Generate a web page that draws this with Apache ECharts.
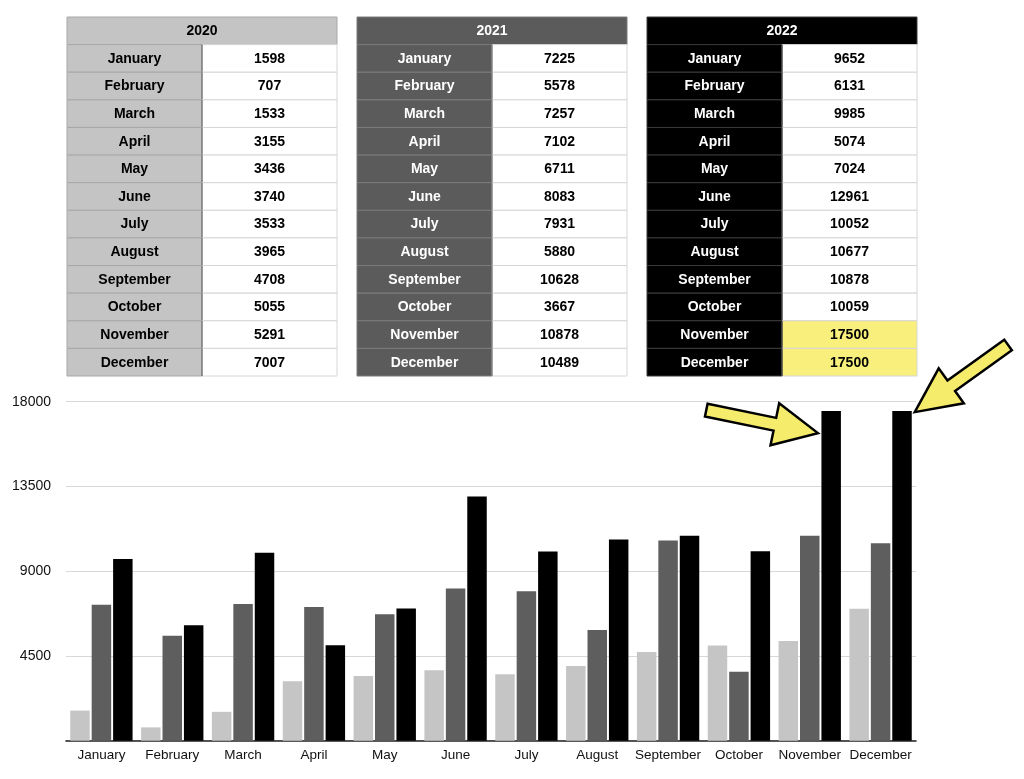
<!DOCTYPE html>
<html>
<head>
<meta charset="utf-8">
<script src="https://cdn.jsdelivr.net/npm/echarts@6/dist/echarts.min.js"></script>
<style>
html,body{margin:0;padding:0;background:#ffffff;}
#c{width:1024px;height:779px;}
</style>
</head>
<body>
<div id="c"></div>
<script>
// ---------- data ----------
const months = ['January','February','March','April','May','June','July','August','September','October','November','December'];
const years = ['2020','2021','2022'];
const values2020 = [1598, 707, 1533, 3155, 3436, 3740, 3533, 3965, 4708, 5055, 5291, 7007];
const values2021 = [7225, 5578, 7257, 7102, 6711, 8083, 7931, 5880, 10628, 3667, 10878, 10489];
const values2022 = [9652, 6131, 9985, 5074, 7024, 12961, 10052, 10677, 10878, 10059, 17500, 17500];
const highlighted2022 = ['November', 'December'];
const yTicks = [0, 4500, 9000, 13500, 18000];
const arrowTargets = ['November', 'December'];

// ---------- styles ----------
const FONT = '"Liberation Sans", Arial, Helvetica, sans-serif';
const barColors = ['#c5c5c5', '#5e5e5e', '#000000'];
const tableStyles = [
  { left: 67,  labelFill: '#c4c4c4', labelText: '#000000', labelStroke: '#a8a8a8', divider: '#4a4a4a' },
  { left: 357, labelFill: '#5b5b5b', labelText: '#ffffff', labelStroke: '#7a7a7a', divider: '#5b5b5b' },
  { left: 647, labelFill: '#000000', labelText: '#ffffff', labelStroke: '#3a3a3a', divider: '#000000' }
];
const tableValues = [values2020, values2021, values2022];

const chart = echarts.init(document.getElementById('c'), null, { renderer: 'canvas' });

const grids = [{ left: 66, right: 108, top: 401.7, bottom: 38.3 }];
const xAxes = [{
  type: 'category', gridIndex: 0, data: months,
  axisLine: { lineStyle: { color: '#222222', width: 1.6 } },
  axisTick: { show: false },
  axisLabel: { fontFamily: FONT, fontSize: 13.5, color: '#111111', margin: 8, interval: 0 }
}];
const yAxes = [{
  type: 'value', gridIndex: 0, min: yTicks[0], max: yTicks[yTicks.length - 1], interval: yTicks[1] - yTicks[0],
  axisLine: { show: false }, axisTick: { show: false },
  splitLine: { lineStyle: { color: '#d8d8d8', width: 1 } },
  axisLabel: { fontFamily: FONT, fontSize: 14, color: '#111111', margin: 15,
    formatter: v => (v === 0 ? '' : String(v)) }
}];
const series = [];
years.forEach((y, i) => {
  series.push({
    type: 'bar', name: y, xAxisIndex: 0, yAxisIndex: 0,
    data: tableValues[i],
    itemStyle: { color: barColors[i] },
    barGap: '10%', barCategoryGap: '12%',
    silent: true, animation: false
  });
});

// ---------- tables via custom series on hidden grids ----------
years.forEach((y, t) => {
  const st = tableStyles[t];
  const gi = t + 1;
  grids.push({ left: st.left, top: 17, width: 270, height: 359 });
  xAxes.push({ type: 'value', gridIndex: gi, min: 0, max: 2, show: false });
  yAxes.push({ type: 'category', gridIndex: gi, data: ['header'].concat(months), inverse: true, show: false });
  const cells = [];
  cells.push({ col: 0, row: 0, span: 2, text: y, kind: 'header' });
  months.forEach((m, r) => {
    cells.push({ col: 0, row: r + 1, span: 1, text: m, kind: 'label' });
    cells.push({ col: 1, row: r + 1, span: 1, text: String(tableValues[t][r]), kind: 'value',
      hi: t === 2 && highlighted2022.indexOf(m) >= 0 });
  });
  series.push({
    type: 'custom', xAxisIndex: gi, yAxisIndex: gi, silent: true, animation: false, clip: false,
    data: cells.map(c => [c.col, c.row]),
    renderItem: function (params, api) {
      const c = cells[params.dataIndex];
      const p = api.coord([c.col, c.row]);
      const sz = api.size([1, 1]);
      const x = p[0], w = sz[0] * c.span, h = sz[1], yTop = p[1] - h / 2;
      let fill, stroke, txt;
      if (c.kind === 'value') { fill = c.hi ? '#f8ef7c' : '#ffffff'; stroke = '#d6d6d6'; txt = '#000000'; }
      else { fill = st.labelFill; stroke = st.labelStroke; txt = st.labelText; }
      const children = [
        { type: 'rect', shape: { x: x, y: yTop, width: w, height: h },
          style: { fill: fill, stroke: stroke, lineWidth: 1 } },
        { type: 'text', style: { text: c.text, x: x + w / 2, y: yTop + h / 2 + 0.5,
          align: 'center', verticalAlign: 'middle', fill: txt,
          font: 'bold 14px ' + FONT } }
      ];
      if (c.kind === 'value') {
        children.push({ type: 'line', shape: { x1: x, y1: yTop, x2: x, y2: yTop + h },
          style: { stroke: st.divider, lineWidth: 1 } });
      }
      if (c.kind === 'header') {
        children.push({ type: 'line', shape: { x1: x, y1: yTop + h, x2: x + w, y2: yTop + h },
          style: { stroke: t === 0 ? '#8a8a8a' : st.labelStroke, lineWidth: 1 } });
      }
      return { type: 'group', children: children };
    }
  });
});

chart.setOption({
  backgroundColor: '#ffffff',
  animation: false,
  grid: grids, xAxis: xAxes, yAxis: yAxes, series: series
});

// ---------- arrows anchored to the target bars ----------
function arrowPoints(tip, angle, L, H, W, S) {
  const local = [[0, 0], [-H, -W / 2], [-H, -S / 2], [-L, -S / 2], [-L, S / 2], [-H, S / 2], [-H, W / 2]];
  const ca = Math.cos(angle), sa = Math.sin(angle);
  return local.map(q => [tip[0] + q[0] * ca - q[1] * sa, tip[1] + q[0] * sa + q[1] * ca]);
}
const c0 = chart.convertToPixel({ gridIndex: 0 }, [months[0], 0]);
const c1 = chart.convertToPixel({ gridIndex: 0 }, [months[1], 0]);
const band = c1[0] - c0[0];
const bw = band * (1 - 0.12) / 3.2;
const tA = chart.convertToPixel({ gridIndex: 0 }, [arrowTargets[0], values2022[months.indexOf(arrowTargets[0])]]);
const tB = chart.convertToPixel({ gridIndex: 0 }, [arrowTargets[1], values2022[months.indexOf(arrowTargets[1])]]);
const tipA = [tA[0] + 1.1 * bw - bw / 2 - 3.5, tA[1] + 22];
const tipB = [tB[0] + 1.1 * bw + bw / 2 + 3, tB[1] + 1];
const arrowStyle = { fill: '#f6ec6c', stroke: '#000000', lineWidth: 2.5, lineJoin: 'miter' };
chart.setOption({
  graphic: [
    { type: 'polygon', silent: true, z: 100,
      shape: { points: arrowPoints(tipA, Math.atan2(23, 112), 114, 44, 43, 13) }, style: arrowStyle },
    { type: 'polygon', silent: true, z: 100,
      shape: { points: arrowPoints(tipB, Math.atan2(67, -93), 115, 45, 43, 13) }, style: arrowStyle }
  ]
});
</script>
</body>
</html>
